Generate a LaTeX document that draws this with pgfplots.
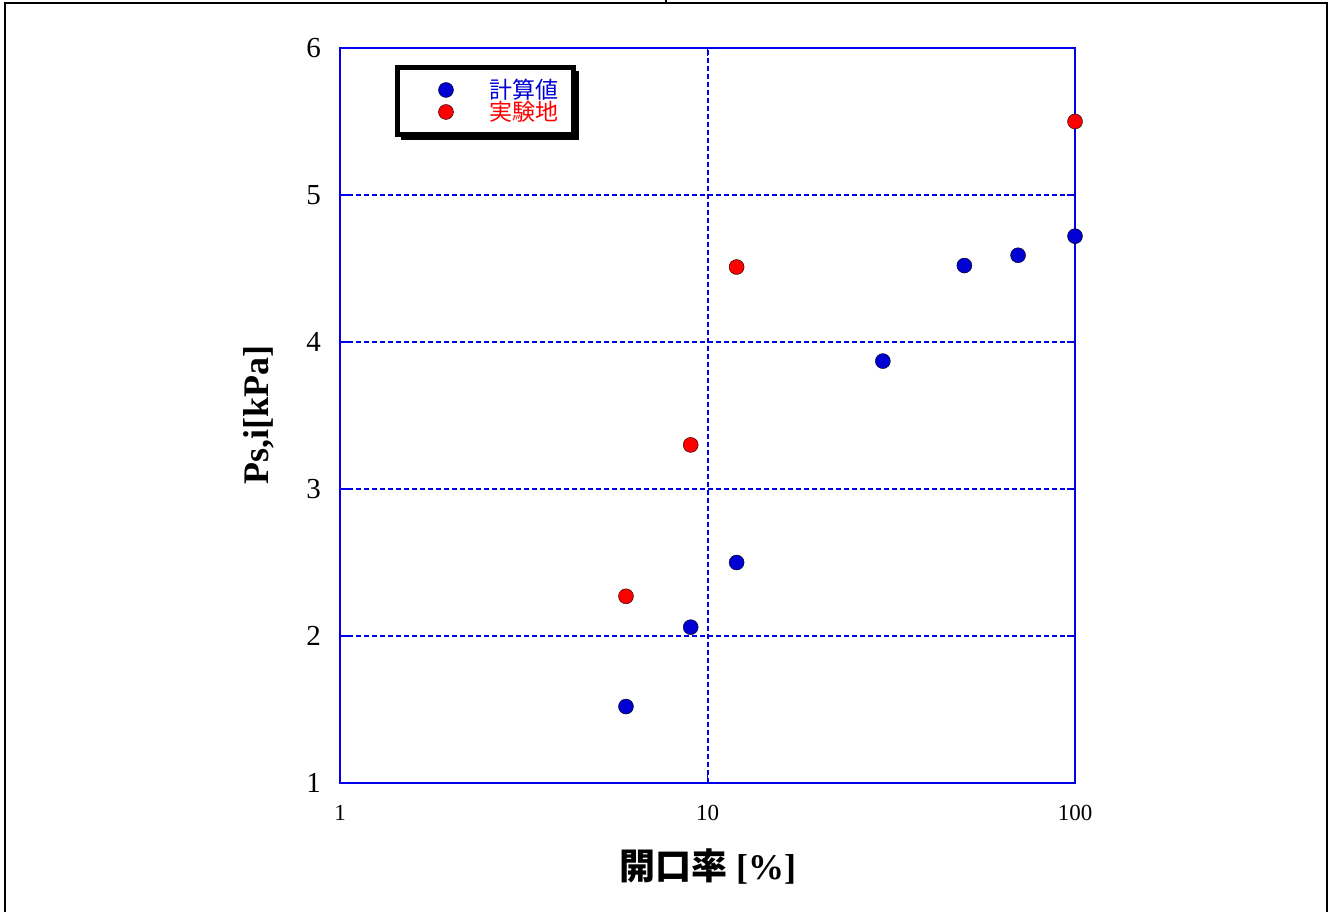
\documentclass[border=0pt]{standalone}
\usepackage{pgfplots}
\pgfplotsset{compat=1.18}
\usepackage{fontspec}
\setmainfont{Liberation Serif}
\newfontfamily\cjk{Noto Sans CJK JP}
\usetikzlibrary{calc}
\definecolor{mblue}{RGB}{0,0,210}
\definecolor{gblue}{RGB}{0,0,235}
\definecolor{mred}{RGB}{255,0,0}
\begin{document}
\begin{tikzpicture}
\useasboundingbox (0,0) rectangle (1335pt,912pt);
\draw[line width=2.5pt] (4.8pt,0pt) -- (4.8pt,909.2pt) -- (1327pt,909.2pt) -- (1327pt,0pt);
\draw[line width=1.5pt] (666pt,912pt) -- (666pt,909pt);
\begin{axis}[
  at={(340pt,129pt)}, anchor=south west,
  scale only axis, width=735pt, height=735pt,
  xmode=log, xmin=1, xmax=100, ymin=1, ymax=6,
  xtick={1,10,100}, xticklabels={1,10,100}, ytick={1,2,3,4,5,6},
  xminorticks=false,
  xmajorgrids=true, ymajorgrids=true,
  major grid style={gblue, line width=2pt, dash pattern=on 5pt off 3pt},
  axis line style={gblue, line width=2.5pt},
  tick style={gblue, line width=1.5pt},
  tick align=inside, major tick length=8pt,
  /pgf/number format/assume math mode=true,
  xticklabel style={font=\fontsize{23}{27}\selectfont, inner sep=0pt, yshift=-22pt},
  yticklabel style={font=\fontsize{29}{34}\selectfont, inner sep=0pt, xshift=-19pt},
  xlabel={{\cjk\bfseries 開口率} \textbf{[\%]}},
  ylabel={\textbf{Ps,i[kPa]}},
  label style={font=\fontsize{36}{42}\selectfont},
  xlabel style={at={(axis description cs:0.5,-0.113)}, anchor=center},
  ylabel style={at={(axis description cs:-0.1102,0.5)}, anchor=center},
  clip=false,
  legend style={name=leg, at={(axis description cs:0.0782,0.9735)}, anchor=north west,
    draw=none, fill=white, outer sep=0pt, inner xsep=15pt, inner ysep=11.5pt,
    row sep=0pt,
    nodes={inner sep=0pt, text height=19.5pt, text depth=2.5pt,
      font={\cjk\fontsize{23}{27}\selectfont}, anchor=base west}},
  legend image code/.code={\path[draw=none,fill=none] (-33.5pt,0pt) rectangle (44pt,1pt);
    \draw[#1] plot coordinates {(0pt,8.5pt)};},
]
\addplot[only marks, mark=*, mark size=7.5pt, mark options={draw=none, fill=mblue}]
  coordinates {(6,1.52) (9,2.06) (12,2.50) (30,3.87) (50,4.52) (70,4.59) (100,4.72)};
\addlegendentry{\textcolor{mblue}{計算値}}
\addplot[only marks, mark=*, mark size=7.5pt, mark options={draw=none, fill=mred}]
  coordinates {(6,2.27) (9,3.30) (12,4.51) (100,5.50)};
\addlegendentry{\textcolor{mred}{実験地}}
\end{axis}
\draw[line width=5pt] ($(leg.north east)+(3pt,-4pt)$) -- ($(leg.south east)+(3pt,-3pt)$) -- ($(leg.south west)+(4pt,-3pt)$);
\draw[line width=5pt] (leg.north west) rectangle (leg.south east);
\end{tikzpicture}
\end{document}
